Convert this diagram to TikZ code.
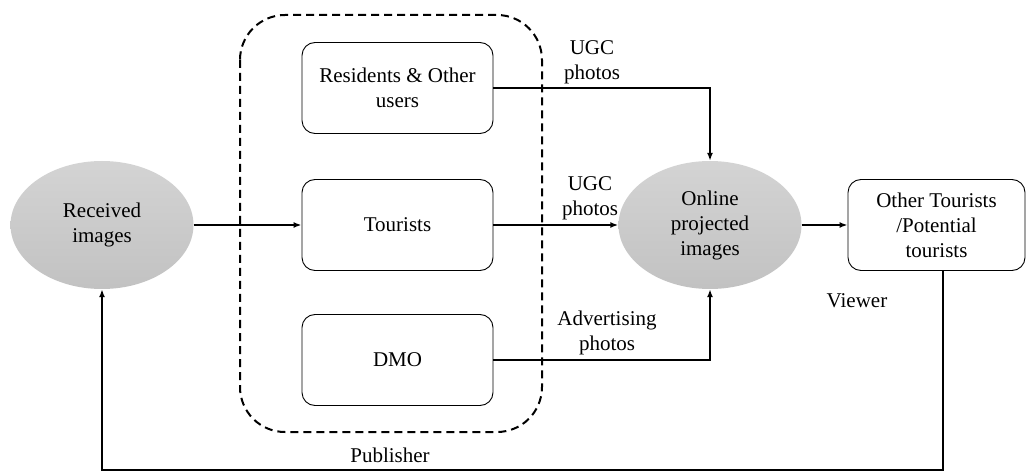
\documentclass[tikz,border=0pt]{standalone}
\usepackage{fontspec}
\setmainfont{Liberation Serif}
\newfontfamily\tnr{Liberation Serif}
\usetikzlibrary{arrows.meta,shapes.geometric}
\begin{document}
\begin{tikzpicture}[x=1pt,y=-1pt,
  txt/.style={font=\tnr\fontsize{21}{25}\selectfont,align=center,inner sep=0pt},
  oval/.style={ellipse,top color=black!17,bottom color=black!24,draw=none,minimum width=183pt,minimum height=128pt,txt},
  rbox/.style={draw,rounded corners=13pt,line width=0.9pt,minimum width=191pt,minimum height=91pt,txt},
  arr/.style={line width=1.8pt,-{Latex[length=8pt,width=6pt]}},
  lbl/.style={txt}]
\useasboundingbox (0,0) rectangle (1026,473);
\draw[line width=2pt,dash pattern=on 8pt off 5pt,rounded corners=45pt] (240,15) rectangle (542,432);
\node[oval] (rec) at (102,225) {Received\\images};
\node[oval] (onl) at (710,225) {Online\\projected\\images};
\node[rbox] (res) at (397.5,88) {Residents \& Other\\users};
\node[rbox] (tou) at (397.5,225) {Tourists};
\node[rbox] (dmo) at (397.5,360) {DMO};
\node[draw,rounded corners=13pt,line width=0.9pt,minimum width=177pt,minimum height=91pt,txt] (oth) at (936.5,225) {Other Tourists\\/Potential\\tourists};
\coordinate (c1) at (onl.north |- res.east);
\coordinate (c2) at (onl.south |- dmo.east);
\coordinate (b1) at (943,470);
\coordinate (b2) at (rec.south |- b1);
\draw[arr] (rec.east) -- (tou.west);
\draw[arr] (tou.east) -- (onl.west);
\draw[arr] (res.east) -- (c1) -- (onl.north);
\draw[arr] (dmo.east) -- (c2) -- (onl.south);
\draw[arr] (onl.east) -- (oth.west);
\draw[arr] (oth.south -| b1) -- (b1) -- (b2) -- (rec.south);
\node[lbl] (l1) at (592,62) {UGC\\photos};
\node[lbl] (l2) at (590,198) {UGC\\photos};
\node[lbl] (l3) at (607,333) {Advertising\\photos};
\node[lbl] (l4) at (857,301) {Viewer};
\node[lbl] (l5) at (390,455) {Publisher};
\end{tikzpicture}
\end{document}
